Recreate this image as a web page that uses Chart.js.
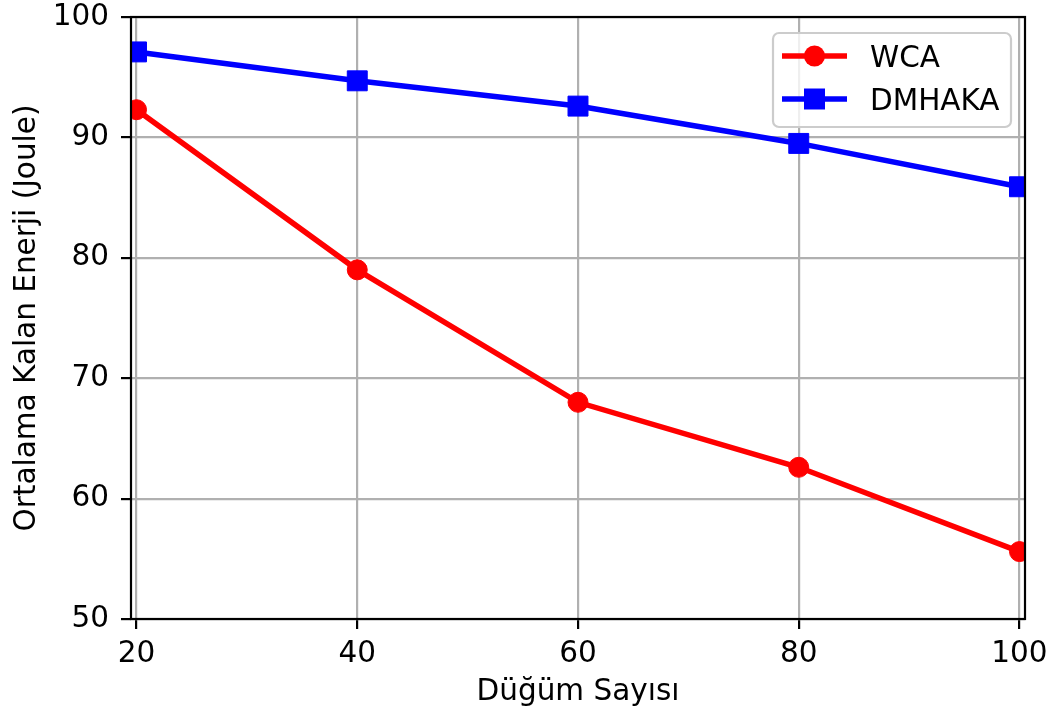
<!DOCTYPE html>
<html>
<head>
<meta charset="utf-8">
<script src="https://cdn.jsdelivr.net/npm/chart.js@4/dist/chart.umd.min.js"></script>
<style>
  html, body { margin: 0; padding: 0; background: #ffffff; }
  #wrap { width: 1057px; height: 716px; }
</style>
</head>
<body>
<div id="wrap"><canvas id="chart" width="1057" height="716"></canvas></div>
<script>
// Node counts on the x axis
const nodeCounts = [20, 40, 60, 80, 100];
// Average remaining energy (Joule) per protocol
const wcaEnergy = [92.3, 79.0, 68.0, 62.6, 55.6];
const dmhakaEnergy = [97.1, 94.7, 92.6, 89.5, 85.9];
const seriesNames = ['WCA', 'DMHAKA'];
const yTicks = [50, 60, 70, 80, 90, 100];
const xTitle = 'Düğüm Sayısı';
const yTitle = 'Ortalama Kalan Enerji (Joule)';

const FONT = 'DejaVu Sans';
const FS = 29.5;
const RED = '#ff0000';
const BLUE = '#0000ff';

const toPoints = (ys) => nodeCounts.map((x, i) => ({ x: x, y: ys[i] }));

// Frame drawn on top of the data, like axis spines
const framePlugin = {
  id: 'frame',
  afterDatasetsDraw(chart) {
    const { ctx, chartArea: a } = chart;
    ctx.save();
    ctx.strokeStyle = '#000000';
    ctx.lineWidth = 2.2;
    ctx.strokeRect(a.left, a.top, a.right - a.left, a.bottom - a.top);
    ctx.restore();
  }
};

// Legend box with line + marker handles in the upper right corner
const legendPlugin = {
  id: 'lineLegend',
  afterDraw(chart) {
    const { ctx, chartArea: a } = chart;
    const bw = 238, bh = 94;
    const bx = a.right - 14 - bw, by = a.top + 16;
    ctx.save();
    ctx.beginPath();
    if (ctx.roundRect) ctx.roundRect(bx, by, bw, bh, 6); else ctx.rect(bx, by, bw, bh);
    ctx.fillStyle = 'rgba(255,255,255,0.8)';
    ctx.fill();
    ctx.strokeStyle = '#cccccc';
    ctx.lineWidth = 2.2;
    ctx.stroke();

    const entries = chart.data.datasets;
    entries.forEach((ds, i) => {
      const y = by + 23 + i * 43;
      const x0 = bx + 9, x1 = bx + 74, xm = (x0 + x1) / 2;
      ctx.strokeStyle = ds.borderColor;
      ctx.lineWidth = ds.borderWidth;
      ctx.beginPath();
      ctx.moveTo(x0, y);
      ctx.lineTo(x1, y);
      ctx.stroke();
      ctx.fillStyle = ds.borderColor;
      ctx.beginPath();
      if (ds.pointStyle === 'rect') {
        ctx.rect(xm - 10.5, y - 10.5, 21, 21);
      } else {
        ctx.arc(xm, y, 10.5, 0, Math.PI * 2);
      }
      ctx.fill();
      ctx.fillStyle = '#000000';
      ctx.font = FS + 'px "' + FONT + '"';
      ctx.textBaseline = 'alphabetic';
      ctx.textAlign = 'left';
      ctx.fillText(ds.label, bx + 97, y + 11);
    });
    ctx.restore();
  }
};

new Chart(document.getElementById('chart'), {
  type: 'line',
  data: {
    datasets: [
      {
        label: seriesNames[0],
        data: toPoints(wcaEnergy),
        borderColor: RED,
        backgroundColor: RED,
        borderWidth: 5.5,
        pointStyle: 'circle',
        pointRadius: 10,
        pointBorderWidth: 1,
        pointBackgroundColor: RED,
        pointBorderColor: RED,
        pointHoverRadius: 10,
        clip: 0,
        tension: 0
      },
      {
        label: seriesNames[1],
        data: toPoints(dmhakaEnergy),
        borderColor: BLUE,
        backgroundColor: BLUE,
        borderWidth: 5.5,
        pointStyle: 'rect',
        pointRadius: 14.1,
        pointBorderWidth: 1,
        pointBackgroundColor: BLUE,
        pointBorderColor: BLUE,
        pointHoverRadius: 14.1,
        clip: 0,
        tension: 0
      }
    ]
  },
  options: {
    responsive: false,
    animation: false,
    devicePixelRatio: 1,
    layout: { padding: { left: 0, top: 17, right: 32, bottom: 0 } },
    plugins: {
      legend: { display: false },
      tooltip: { enabled: false }
    },
    scales: {
      x: {
        type: 'linear',
        min: 19.5,
        max: 100.5,
        afterBuildTicks(scale) { scale.ticks = nodeCounts.map(v => ({ value: v })); },
        afterFit(scale) {
          scale.height = 97;
          scale.paddingLeft = 0;
          scale.paddingRight = 0;
        },
        border: { display: false },
        grid: {
          color: '#b0b0b0',
          lineWidth: 2.2,
          drawTicks: true,
          tickLength: 10,
          tickColor: '#000000',
          tickWidth: 2.2
        },
        ticks: {
          color: '#000000',
          font: { family: FONT, size: FS },
          padding: 8,
          maxRotation: 0,
          autoSkip: false
        },
        title: {
          display: true,
          text: xTitle,
          color: '#000000',
          font: { family: FONT, size: FS },
          padding: { top: 0, bottom: 6 }
        }
      },
      y: {
        min: 50,
        max: 100,
        afterBuildTicks(scale) { scale.ticks = yTicks.map(v => ({ value: v })); },
        afterFit(scale) {
          scale.width = 131;
          scale.paddingTop = 0;
          scale.paddingBottom = 0;
        },
        border: { display: false },
        grid: {
          color: '#b0b0b0',
          lineWidth: 2.2,
          drawTicks: true,
          tickLength: 10,
          tickColor: '#000000',
          tickWidth: 2.2
        },
        ticks: {
          color: '#000000',
          font: { family: FONT, size: FS },
          padding: 12
        },
        title: {
          display: true,
          text: yTitle,
          color: '#000000',
          font: { family: FONT, size: FS },
          padding: { top: 10, bottom: 0 }
        }
      }
    }
  },
  plugins: [framePlugin, legendPlugin]
});
</script>
</body>
</html>
